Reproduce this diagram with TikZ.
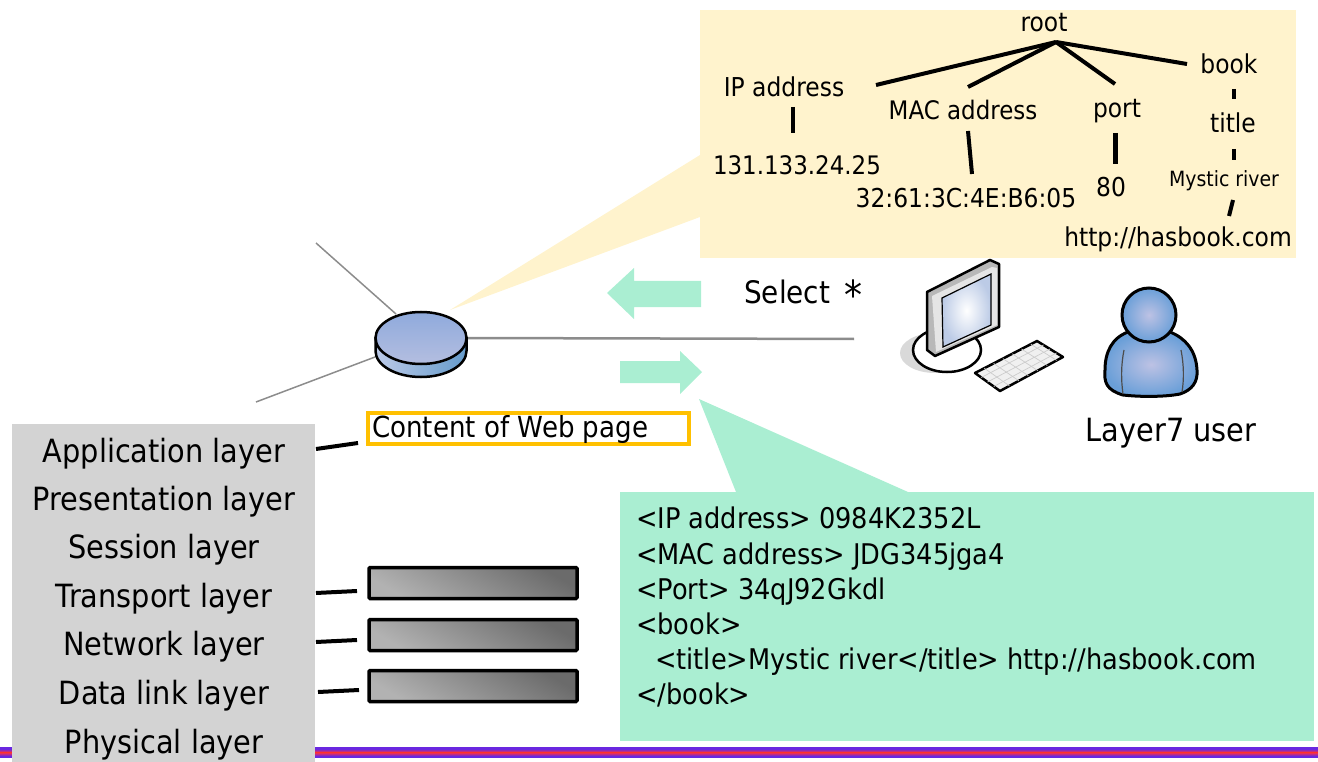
\documentclass[tikz,border=0pt]{standalone}
\usepackage{fontspec}
\setmainfont[FakeStretch=0.9]{DejaVu Sans}
\usetikzlibrary{shapes.geometric,calc}
\definecolor{cream}{HTML}{FFF3CD}
\definecolor{mint}{HTML}{AAEED2}
\definecolor{layergray}{HTML}{D3D3D3}
\definecolor{amber}{HTML}{FFC000}
\definecolor{bandv}{HTML}{6A28E0}
\definecolor{bandr}{HTML}{FF3040}
\definecolor{rtop}{HTML}{8FAADC}
\definecolor{rbot}{HTML}{B4BEE0}
\definecolor{rsidel}{HTML}{BCCAE8}
\definecolor{rsider}{HTML}{659BCB}
\definecolor{uout}{HTML}{6A9FD8}
\definecolor{uin}{HTML}{BDC2E4}
\definecolor{scr}{HTML}{BCCBE6}
\tikzset{
  x=1pt,y=-1pt,
  lbl/.style={inner sep=0pt,font=\fontsize{#1}{#1}\selectfont,text=black},
  lbl/.default=25,
  treeline/.style={line width=4pt,black},
  tie/.style={line width=4pt,black},
  netline/.style={draw=gray!90,line width=1pt},
  payload/.style={draw=black,line width=3.5pt,rounded corners=1pt,top color=black!58,bottom color=black!30,shading angle=-30},
}
\begin{document}
\begin{tikzpicture}
\useasboundingbox (0,0) rectangle (1318,762);
% bottom band
\fill[bandv] (0,747) rectangle (1318,749);
\shade[top color=bandv,bottom color=bandr] (0,749) rectangle (1318,752.5);
\shade[top color=bandr,bottom color=bandv] (0,752.5) rectangle (1318,756);
\fill[bandv] (0,756) rectangle (1318,758);
% callouts
\fill[cream] (700,155) -- (450,310) -- (700,217) -- cycle;
\fill[cream] (700,10) rectangle (1296,258);
\fill[mint] (699,399) -- (908,492) -- (736,492) -- cycle;
\fill[mint] (620,492) rectangle (1314,741);
% arrows
\fill[mint] (701,281) -- (634,281) -- (634,268) -- (607,293) -- (634,319) -- (634,307) -- (701,307) -- cycle;
\fill[mint] (620,361) -- (680,361) -- (680,351) -- (702,372) -- (680,394) -- (680,383) -- (620,383) -- cycle;
% network lines
\coordinate (n1) at (316,243); \coordinate (n2) at (256,402); \coordinate (n3) at (854,339);
\node[ellipse,minimum width=91pt,minimum height=52pt,inner sep=0pt] (router) at (421,338) {};
\draw[netline,line width=1.5pt] (n1) -- (396,314);
\draw[netline,line width=1.5pt] (n2) -- (375,357);
\draw[netline,line width=2.5pt] (router.east) -- (n3);
% router
\draw[line width=2.5pt,left color=rsidel,right color=rsider]
  (375.5,338) -- (375.5,351) arc[start angle=180,end angle=360,x radius=45.5pt,y radius=26pt] -- (466.5,338) -- cycle;
\draw[line width=2.5pt,top color=rtop,bottom color=rbot] (421,338) ellipse[x radius=45.5pt,y radius=26pt];
% computer
\fill[black!15] (935,353) ellipse[x radius=35pt,y radius=20pt];
\draw[line width=2.5pt,fill=white] (947,350) ellipse[x radius=34pt,y radius=22pt];
\draw[line width=2.5pt,fill=black!28,line join=round] (927,292) -- (990,260) -- (999,264) -- (999,327) -- (935,356) -- (927,350) -- cycle;
\fill[black!10] (932,296) -- (992,267) -- (997,268) -- (997,325) -- (936,352) -- cycle;
\shade[inner color=white,outer color=scr,draw=black,line width=1.2pt] (942,298) -- (991,274) -- (991,325) -- (943,347) -- cycle;
\draw[line width=2.5pt,fill=white!94!black,line join=round] (975,373) -- (1037,341) -- (1063,357) -- (1000,391) -- cycle;
\foreach \i in {0.15,0.3,0.45,0.6,0.75,0.9}{
  \draw[black!20,line width=.7pt] ($(975,373)!\i!(1037,341)$) -- ($(1000,391)!\i!(1063,357)$);
}
\foreach \i in {0.25,0.5,0.75}{
  \draw[black!20,line width=.7pt] ($(975,373)!\i!(1000,391)$) -- ($(1037,341)!\i!(1063,357)$);
}
% user
\shade[inner color=uin,outer color=uout,draw=black,line width=3pt]
  (1128,332) .. controls (1112,338) and (1105,352) .. (1105,370)
  .. controls (1104,382) and (1106,390) .. (1123,395)
  .. controls (1140,397) and (1165,397) .. (1180,394)
  .. controls (1192,390) and (1198,382) .. (1197,370)
  .. controls (1196,350) and (1185,338) .. (1170,332) -- cycle;
\draw[line width=1.2pt,black!70] (1124,350) .. controls (1121,365) and (1121,380) .. (1123,394);
\draw[line width=1.2pt,black!70] (1181,350) .. controls (1184,365) and (1184,380) .. (1182,392);
\shade[inner color=uin,outer color=uout,draw=black,line width=3pt] (1149,315) circle[radius=27pt];
% left layers
\fill[layergray] (12,424) rectangle (315,762);
\node[lbl=32] (app) at (164,453.5) {Application layer};
\node[lbl=32] (pres) at (164,501.5) {Presentation layer};
\node[lbl=32] (sess) at (164,550) {Session layer};
\node[lbl=32] (trans) at (164,598.5) {Transport layer};
\node[lbl=32] (net) at (164,647) {Network layer};
\node[lbl=32] (data) at (164,696) {Data link layer};
\node[lbl=32] (phys) at (164,745) {Physical layer};
% content box
\node[draw=amber,line width=4pt,fill=white,minimum width=321pt,minimum height=31pt,inner sep=0pt] (content) at (528,428) {};
\node[lbl=29,anchor=west] (contenttext) at (372,429) {Content of Web page};
\coordinate (ca) at (358,443); \coordinate (cb) at (316,449);
\draw[tie] (cb) -- (ca);
% payload boxes
\node[payload,minimum width=208pt,minimum height=31pt] (p1) at (473,583) {};
\node[payload,minimum width=208pt,minimum height=31pt] (p2) at (473,635) {};
\node[payload,minimum width=208pt,minimum height=31pt] (p3) at (473,686) {};
\coordinate (t1a) at (316,593); \coordinate (t1b) at (357,591);
\coordinate (t2a) at (316,642); \coordinate (t2b) at (357,640);
\coordinate (t3a) at (318,692); \coordinate (t3b) at (359,690);
\draw[tie] (t1a) -- (t1b);
\draw[tie] (t2a) -- (t2b);
\draw[tie] (t3a) -- (t3b);
% tree
\node[lbl=26] (root) at (1044,23) {root};
\node[lbl=26] (ip) at (784,87) {IP address};
\node[lbl=25.5] (mac) at (963,110) {MAC address};
\node[lbl=26] (port) at (1117,111) {port};
\node[lbl=26] (book) at (1229,64) {book};
\node[lbl=26] (title) at (1233,123) {title};
\node[lbl=25.5] (ipv) at (797,165) {131.133.24.25};
\node[lbl=26] (macv) at (966,198) {32:61:3C:4E:B6:05};
\node[lbl=26] (pv) at (1111,187) {80};
\node[lbl=21] (mr) at (1224,181) {Mystic river};
\node[lbl=26] (url) at (1178,239) {http://hasbook.com};
\coordinate (hub) at (1056,42);
\draw[treeline] (hub) -- (876,85);
\draw[treeline] (hub) -- (968,87);
\draw[treeline] (hub) -- (1115,84);
\draw[treeline] (hub) -- (1187,64);
\draw[treeline] (793,107) -- (793,133);
\draw[treeline] (968,131) -- (972,174);
\draw[treeline,line width=5pt] (1115,133) -- (1115,164);
\draw[treeline] (1234,89) -- (1234,99);
\draw[treeline] (1234,149) -- (1234,160);
\draw[treeline] (1233,200) -- (1229,216);
% labels
\node[lbl=31,anchor=west] (sel) at (744,295) {Select\hspace{14pt}\raisebox{-6pt}{\fontsize{40}{40}\selectfont *}};
\node[lbl=32] (l7) at (1171,433) {Layer7 user};
\node[anchor=north west,align=left,inner sep=0pt,font=\fontsize{28.5}{35.2}\selectfont] (xml) at (636,507)
 {<IP address> 0984K2352L\\<MAC address> JDG345jga4\\<Port> 34qJ92Gkdl\\<book>\\\hspace*{19pt}<title>Mystic river</title> http://hasbook.com\\</book>};
\end{tikzpicture}
\end{document}
